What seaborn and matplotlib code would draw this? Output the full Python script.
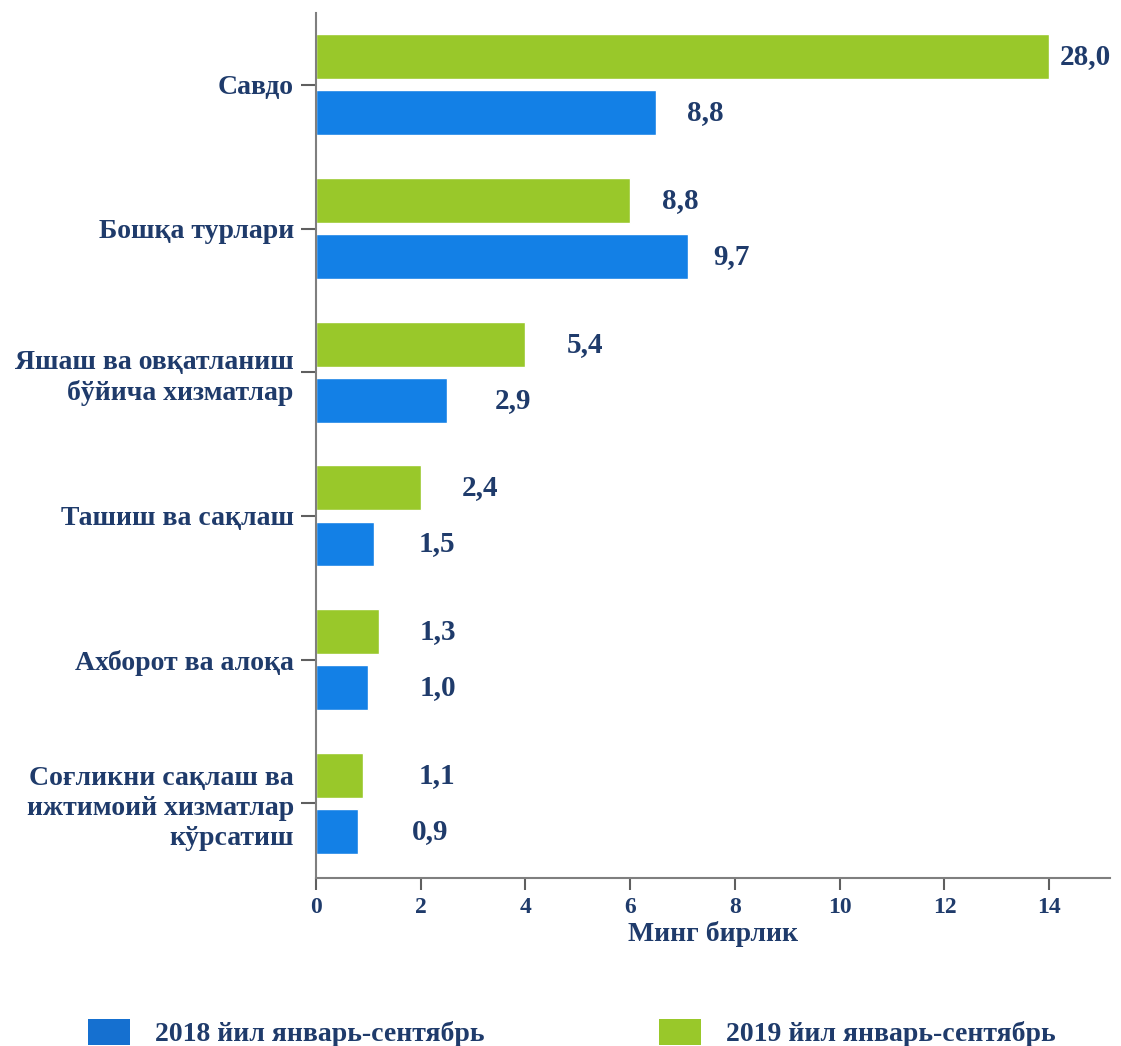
import pandas as pd
import numpy as np
import matplotlib
matplotlib.use('Agg')
import matplotlib.pyplot as plt
from matplotlib.patches import Patch
import seaborn as sns

# data
categories = ['Савдо', 'Бошқа турлари', 'Яшаш ва овқатланиш\nбўйича хизматлар',
              'Ташиш ва сақлаш', 'Ахборот ва алоқа',
              'Соғликни сақлаш ва\nижтимоий хизматлар\nкўрсатиш']
series_2018 = '2018 йил январь-сентябрь'
series_2019 = '2019 йил январь-сентябрь'
# bar lengths as drawn on the axis
bars_2018 = [6.5, 7.1, 2.5, 1.1, 1.0, 0.8]
bars_2019 = [14.0, 6.0, 4.0, 2.0, 1.2, 0.9]
# printed values
labels_2018 = ['8,8', '9,7', '2,9', '1,5', '1,0', '0,9']
labels_2019 = ['28,0', '8,8', '5,4', '2,4', '1,3', '1,1']
xticks = [0, 2, 4, 6, 8, 10, 12, 14]

# where the value labels sit (centre, data units)
label_x_2018 = [7.43, 7.94, 3.76, 2.31, 2.33, 2.18]
label_x_2019 = [14.69, 6.95, 5.14, 3.13, 2.33, 2.31]

blue = '#1380e6'
green = '#99c82a'
navy = '#1f3b6b'

df = pd.DataFrame({
    'cat': categories * 2,
    'val': bars_2019 + bars_2018,
    'year': [series_2019] * 6 + [series_2018] * 6,
})

sns.set_style('white')
plt.rcParams['font.family'] = ['Liberation Serif', 'DejaVu Serif']
plt.rcParams['font.weight'] = 'bold'

fig = plt.figure(figsize=(11.21, 10.46), dpi=100)
ax = fig.add_axes([316 / 1121, 1 - 878 / 1046, (1110 - 316) / 1121, (878 - 13) / 1046])

sns.barplot(data=df, y='cat', x='val', hue='year', hue_order=[series_2019, series_2018],
            palette=[green, blue], orient='h', width=0.78, gap=0.2, legend=False,
            saturation=1, ax=ax)

ax.set_xlim(0, 15.16)
ax.set_ylim(5.52, -0.5)
ax.set_xticks(xticks)
ax.set_xticklabels([str(t) for t in xticks], fontsize=17, color=navy, fontweight='bold')
ax.set_yticks(range(len(categories)))
ax.set_yticklabels(categories, fontsize=20, color=navy, fontweight='bold',
                   ha='right', linespacing=1.25)
ax.set_ylabel('')
ax.set_xlabel('Минг бирлик', fontsize=20, color=navy, fontweight='bold', labelpad=2)

for s in ['top', 'right']:
    ax.spines[s].set_visible(False)
for s in ['left', 'bottom']:
    ax.spines[s].set_color('#7f7f7f')
    ax.spines[s].set_linewidth(1.5)
ax.tick_params(axis='y', left=True, length=11, width=1.5, color='#5f5f5f', pad=5)
ax.tick_params(axis='x', bottom=True, length=8.5, width=1.5, color='#5f5f5f', pad=5)

off = 0.195
for i in range(len(categories)):
    ax.text(label_x_2019[i], i - off, labels_2019[i], ha='center', va='center',
            fontsize=21, color=navy, fontweight='bold')
    ax.text(label_x_2018[i], i + off, labels_2018[i], ha='center', va='center',
            fontsize=21, color=navy, fontweight='bold')

handles = [Patch(facecolor='#1570d0', edgecolor='none'), Patch(facecolor=green, edgecolor='none')]
leg = fig.legend(handles, [series_2018, series_2019], loc='center left',
                 bbox_to_anchor=(77 / 1121, 1 - 1033 / 1046), ncol=2, frameon=False,
                 prop={'size': 20, 'weight': 'bold'}, handlelength=1.5, handleheight=1.1,
                 handletextpad=0.9, columnspacing=6.3, borderaxespad=0)
for t in leg.get_texts():
    t.set_color(navy)

fig.savefig('out.png', dpi=100)
